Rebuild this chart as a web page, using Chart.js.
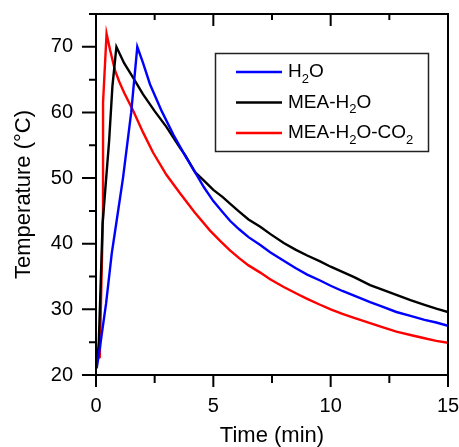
<!DOCTYPE html>
<html>
<head>
<meta charset="utf-8">
<script src="https://cdn.jsdelivr.net/npm/chart.js@4.4.1/dist/chart.umd.min.js"></script>
<style>
html,body{margin:0;padding:0;background:#fff;}
canvas{display:block;}
</style>
</head>
<body>
<canvas id="temperatura" width="459" height="447"></canvas>
<script>
// Tempo (min) e temperatura (°C)
const tempoH2O = [0.03, 0.17, 0.43, 0.67, 0.88, 1.15, 1.5, 1.76, 2.0, 2.3, 2.8, 3.3, 3.8, 4.22, 4.6, 5.0, 5.4, 5.71, 6.1, 6.5, 7.0, 7.42, 8.0, 8.5, 9.0, 9.55, 10.0, 10.5, 11.0, 11.68, 12.2, 12.8, 13.4, 14, 14.5, 15];
const tempH2O  = [21, 24.3, 30.9, 38.5, 43.5, 50, 60, 70, 67.6, 64.3, 60.2, 56.6, 53.4, 50.9, 48.6, 46.5, 44.8, 43.5, 42.2, 41, 39.8, 38.7, 37.4, 36.3, 35.3, 34.4, 33.6, 32.8, 32.1, 31.1, 30.4, 29.6, 29, 28.4, 28, 27.5];

const tempoMEA = [0.05, 0.12, 0.28, 0.56, 0.7, 0.87, 1.2, 1.58, 2.0, 2.5, 3.0, 3.58, 3.8, 4.22, 4.6, 5.0, 5.4, 5.71, 6.1, 6.5, 7.0, 7.42, 8.0, 8.5, 9.0, 9.55, 10.0, 10.5, 11.0, 11.68, 12.2, 12.8, 13.4, 14, 14.5, 15];
const tempMEA  = [22, 25, 43, 55.7, 64, 70, 67.5, 65.3, 62.8, 60.2, 57.8, 54.6, 53.5, 50.9, 49.6, 48.2, 47.1, 46.1, 44.9, 43.7, 42.6, 41.5, 40.1, 39.1, 38.2, 37.3, 36.5, 35.7, 34.9, 33.7, 33.0, 32.2, 31.4, 30.7, 30.1, 29.6];

const tempoCO2 = [0.03, 0.16, 0.3, 0.3, 0.45, 0.6, 0.81, 1.0, 1.2, 1.58, 2.0, 2.43, 3.0, 3.58, 4.2, 4.86, 5.3, 5.71, 6.1, 6.5, 7.0, 7.42, 8.0, 8.6, 9.0, 9.55, 10.0, 10.5, 11.0, 11.68, 12.2, 12.8, 13.4, 14, 14.5, 15];
const tempCO2  = [22.5, 22.7, 45, 61.5, 72, 69.5, 66.4, 64.6, 63, 60.3, 57, 53.9, 50.5, 47.7, 44.8, 42, 40.4, 39, 37.8, 36.7, 35.6, 34.6, 33.4, 32.3, 31.6, 30.7, 30.0, 29.3, 28.7, 27.9, 27.3, 26.6, 26.1, 25.6, 25.2, 24.9];

const rotulos = ['H2O', 'MEA-H2O', 'MEA-H2O-CO2'];
const cores = ['#0000ff', '#000000', '#ff0000'];
const ticksX = [0, 5, 10, 15];
const ticksY = [20, 30, 40, 50, 60, 70];

const fonte = 'Liberation Sans, Arial, Helvetica, sans-serif';
Chart.defaults.font.family = fonte;
Chart.defaults.color = '#000';

function pontos(t, v) {
  return t.map((x, i) => ({ x: x, y: v[i] }));
}

// moldura, ticks maiores/menores e legenda com subscritos
const moldura = {
  id: 'moldura',
  afterDraw(chart) {
    const { ctx, chartArea: a, scales: { x, y } } = chart;
    ctx.save();
    ctx.strokeStyle = '#000';
    ctx.lineWidth = 2;
    ctx.strokeRect(a.left, a.top, a.right - a.left, a.bottom - a.top);
    ctx.beginPath();
    x.ticks.forEach(t => {
      const px = x.getPixelForValue(t.value);
      const maior = ticksX.includes(t.value);
      ctx.moveTo(px, a.bottom);
      ctx.lineTo(px, a.bottom + (maior ? 12 : 8));
      ctx.moveTo(px, a.top);
      ctx.lineTo(px, a.top + (maior ? 12 : 6));
    });
    y.ticks.forEach(t => {
      const py = y.getPixelForValue(t.value);
      const maior = ticksY.includes(t.value);
      ctx.moveTo(a.left, py);
      ctx.lineTo(a.left - (maior ? 14 : 7), py);
    });
    ctx.stroke();

    // legenda
    ctx.lineWidth = 1.5;
    ctx.strokeStyle = '#222';
    ctx.strokeRect(215.5, 53.5, 213, 98);
    chart.data.datasets.forEach((ds, i) => {
      const ly = 72 + i * 30.5;
      ctx.strokeStyle = ds.borderColor;
      ctx.lineWidth = 2.5;
      ctx.beginPath();
      ctx.moveTo(236, ly);
      ctx.lineTo(282, ly);
      ctx.stroke();
      let tx = 288;
      ctx.fillStyle = '#000';
      ctx.textBaseline = 'middle';
      ds.label.split(/(\d)/).forEach(parte => {
        if (!parte) return;
        if (/\d/.test(parte)) {
          ctx.font = '13px ' + fonte;
          ctx.fillText(parte, tx, ly + 7);
        } else {
          ctx.font = '19px ' + fonte;
          ctx.fillText(parte, tx, ly);
        }
        tx += ctx.measureText(parte).width;
      });
    });
    ctx.restore();
  }
};

const ctx = document.getElementById('temperatura');

new Chart(ctx, {
  type: 'scatter',
  data: {
    datasets: [
      { label: rotulos[0], data: pontos(tempoH2O, tempH2O) },
      { label: rotulos[1], data: pontos(tempoMEA, tempMEA) },
      { label: rotulos[2], data: pontos(tempoCO2, tempCO2) }
    ].map((ds, i) => Object.assign(ds, {
      showLine: true,
      borderColor: cores[i],
      backgroundColor: cores[i],
      borderWidth: 2.4,
      pointRadius: 0,
      tension: 0
    }))
  },
  options: {
    responsive: false,
    animation: false,
    layout: { padding: { top: 14, right: 11, left: 0, bottom: 0 } },
    plugins: { legend: { display: false }, tooltip: { enabled: false } },
    scales: {
      x: {
        type: 'linear', min: 0, max: 15,
        ticks: {
          stepSize: 2.5, autoSkip: false, maxRotation: 0, padding: 7,
          font: { size: 20 },
          callback: v => ticksX.includes(v) ? v : ''
        },
        grid: { display: true, drawOnChartArea: false, drawTicks: true, tickLength: 12, color: 'rgba(0,0,0,0)' },
        border: { display: false },
        title: { display: true, text: 'Time (min)', font: { size: 22, lineHeight: 1 }, padding: 0 },
        afterFit: s => { s.height = 72; s.paddingLeft = 0; s.paddingRight = 0; }
      },
      y: {
        min: 20, max: 75,
        ticks: {
          stepSize: 5, autoSkip: false, padding: 9,
          font: { size: 20 },
          callback: v => ticksY.includes(v) ? v : ''
        },
        grid: { display: true, drawOnChartArea: false, drawTicks: true, tickLength: 14, color: 'rgba(0,0,0,0)' },
        border: { display: false },
        title: { display: true, text: 'Temperature (°C)', font: { size: 22, lineHeight: 1 }, padding: { top: 13, bottom: 0 } },
        afterFit: s => { s.width = 96; s.paddingTop = 0; s.paddingBottom = 0; }
      }
    }
  },
  plugins: [moldura]
});
</script>
</body>
</html>
